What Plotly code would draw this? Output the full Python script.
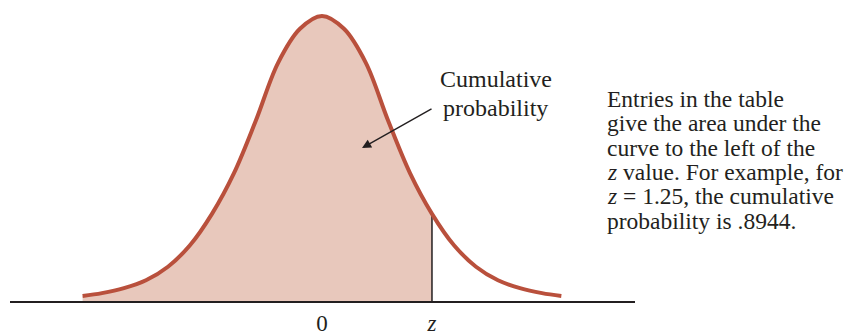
import plotly.graph_objects as go

# Curve: z position and height of the density curve
Z_POINTS = [-2.72, -2.5, -2.25, -2.0, -1.75, -1.5, -1.25, -1.0, -0.75, -0.5, -0.25, 0.0,
            0.25, 0.5, 0.75, 1.0, 1.25, 1.5, 1.75, 2.0, 2.25, 2.5, 2.72]
DENSITY = [0.007, 0.011, 0.018, 0.029, 0.048, 0.078, 0.122, 0.179, 0.253, 0.333, 0.381, 0.399,
           0.381, 0.333, 0.253, 0.179, 0.122, 0.078, 0.048, 0.029, 0.018, 0.011, 0.007]

Z_VALUE = 1.25
TICK_VALUES = [0, Z_VALUE]
TICK_LABELS = ["0", "<i>z</i>"]

LABEL_LINES = ["Cumulative", "probability"]
NOTE_LINES = [
    "Entries in the table",
    "give the area under the",
    "curve to the left of the",
    "<i>z</i> value. For example, for",
    "<i>z</i> = 1.25, the cumulative",
    "probability is .8944.",
]

CURVE_COLOR = "#B9503C"
FILL_COLOR = "#E8C8BC"
INK = "#231F20"
FONT = "Liberation Serif"

W, H = 847, 333
MARGIN = dict(l=10, r=212, t=0, b=32)
X_RANGE = [-3.545, 3.557]
Y_RANGE = [0, 0.4213]

# Shaded area: everything left of z
fill_x = [x for x in Z_POINTS if x <= Z_VALUE]
fill_y = DENSITY[:len(fill_x)]
z_height = DENSITY[Z_POINTS.index(Z_VALUE)]

fig = go.Figure()
fig.add_trace(go.Scatter(
    x=fill_x, y=fill_y, mode="lines", fill="tozeroy", fillcolor=FILL_COLOR,
    line=dict(width=0, shape="spline", smoothing=1.0), hoverinfo="skip",
))
fig.add_trace(go.Scatter(
    x=[Z_VALUE, Z_VALUE], y=[0, z_height], mode="lines",
    line=dict(color=INK, width=1.5), hoverinfo="skip",
))
fig.add_trace(go.Scatter(
    x=Z_POINTS, y=DENSITY, mode="lines",
    line=dict(color=CURVE_COLOR, width=4, shape="spline", smoothing=1.0),
    hoverinfo="skip",
))

# Arrow pointing into the shaded area
fig.add_annotation(
    x=0.455, y=0.214, xref="x", yref="y", text="",
    showarrow=True, arrowhead=2, arrowsize=1.3, arrowwidth=1.4, arrowcolor=INK,
    ax=71, ay=-40,
)

plot_h = H - MARGIN["t"] - MARGIN["b"]
plot_w = W - MARGIN["l"] - MARGIN["r"]


def paper_x(px):
    return (px - MARGIN["l"]) / plot_w


def paper_y(py):
    return (H - MARGIN["b"] - py) / plot_h


for i, line in enumerate(LABEL_LINES):
    fig.add_annotation(
        x=paper_x(495.5), y=paper_y(79 + 29 * i), xref="paper", yref="paper",
        text=line, showarrow=False, xanchor="center", yanchor="middle",
        font=dict(family=FONT, size=24, color=INK),
    )

for i, line in enumerate(NOTE_LINES):
    fig.add_annotation(
        x=paper_x(605), y=paper_y(99 + 24.3 * i), xref="paper", yref="paper",
        text=line, showarrow=False, xanchor="left", yanchor="middle",
        font=dict(family=FONT, size=23.5, color=INK),
    )

fig.update_layout(
    width=W, height=H, margin=MARGIN,
    paper_bgcolor="white", plot_bgcolor="white", showlegend=False,
    xaxis=dict(
        range=X_RANGE, showgrid=False, zeroline=False, automargin=False,
        showline=True, linecolor=INK, linewidth=2,
        tickvals=TICK_VALUES, ticktext=TICK_LABELS, ticks="",
        tickfont=dict(family=FONT, size=23, color=INK),
    ),
    yaxis=dict(range=Y_RANGE, visible=False, automargin=False),
)

# drop the browser's default page margin so the figure sits at the top-left corner
fig.write_html(
    "out.html",
    config={"displayModeBar": False},
    post_script="document.body.style.margin = '0px';",
)
